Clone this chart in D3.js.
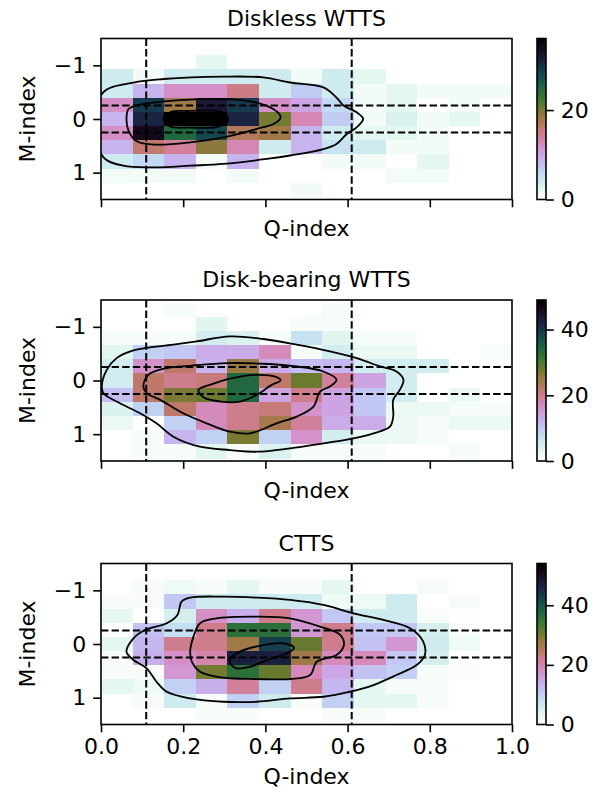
<!DOCTYPE html>
<html>
<head>
<meta charset="utf-8">
<script src="https://cdn.jsdelivr.net/npm/d3@7/dist/d3.min.js"></script>
<style>
body { margin: 0; background: #fff; }
svg text { font-family: "DejaVu Sans", sans-serif; fill: #000; }
</style>
</head>
<body>
<script>
//bin edges of the 2d histogram
var qEdges = [0, 0.0769, 0.1538, 0.2308, 0.3077, 0.3846, 0.4615, 0.5385, 0.6154, 0.6923, 0.7692, 0.8462, 0.9231, 1];
var mEdges = [-1.45, -1.186, -0.923, -0.659, -0.395, -0.132, 0.132, 0.395, 0.659, 0.923, 1.186, 1.45];

var titles = ["Diskless WTTS", "Disk-bearing WTTS", "CTTS"];
var vmaxes = [36, 49, 54];
var cbarTicks = [[0, 20], [0, 20, 40], [0, 20, 40]];
var qTicks = [0, 0.2, 0.4, 0.6, 0.8, 1.0];
var mTicks = [-1, 0, 1];
var qCuts = [0.11, 0.61];
var mCuts = [-0.25, 0.25];

//counts, one row per M bin (top row = most negative M), one column per Q bin
var counts1 = [
  [0, 0, 0, 0, 0, 0, 0, 0, 0, 0, 0, 0, 0],
  [0, 0, 0, 2, 0, 0, 0, 0, 0, 0, 0, 0, 0],
  [4, 1, 4, 4, 4, 4, 1, 4, 2, 0, 0, 0, 0],
  [4, 9, 12, 12, 15, 4, 7, 4, 1, 2, 1, 1, 1],
  [12, 29, 18, 32, 29, 12, 10, 6, 1, 2, 0, 1, 0],
  [9, 31, 36, 36, 31, 20, 13, 7, 1, 3, 1, 2, 0],
  [12, 34, 25, 28, 17, 18, 9, 4, 2, 2, 1, 0, 0],
  [9, 16, 14, 19, 13, 4, 9, 5, 4, 1, 1, 0, 0],
  [4, 6, 9, 1, 9, 0, 0, 1, 1, 0, 2, 0, 0],
  [1, 1, 1, 0, 1, 0, 0, 0, 0, 1, 1, 0, 0],
  [0, 0, 0, 0, 0, 0, 1, 0, 0, 0, 0, 0, 0]
];
var counts2 = [
  [0, 0, 1, 0, 0, 0, 0, 1, 0, 0, 0, 0, 0],
  [0, 0, 0, 3, 0, 0, 1, 1, 0, 0, 0, 0, 0],
  [1, 1, 1, 5, 4, 1, 7, 3, 1, 1, 0, 0, 0],
  [3, 9, 10, 13, 13, 17, 1, 5, 2, 2, 0, 0, 1],
  [5, 16, 22, 12, 25, 13, 11, 12, 5, 5, 5, 0, 0],
  [5, 22, 20, 21, 34, 22, 28, 19, 14, 5, 0, 0, 0],
  [11, 22, 27, 28, 34, 14, 20, 14, 10, 5, 0, 2, 0],
  [4, 9, 22, 17, 20, 21, 16, 14, 10, 2, 2, 1, 1],
  [2, 0, 9, 17, 20, 24, 19, 13, 13, 2, 1, 2, 2],
  [0, 1, 12, 9, 27, 9, 16, 5, 2, 2, 1, 0, 0],
  [0, 1, 1, 3, 1, 4, 1, 1, 1, 0, 0, 1, 0]
];
var counts3 = [
  [0, 0, 0, 0, 0, 0, 0, 0, 0, 0, 0, 0, 0],
  [0, 1, 2, 1, 3, 1, 1, 3, 0, 0, 1, 0, 0],
  [1, 1, 11, 6, 6, 6, 6, 2, 2, 6, 0, 1, 0],
  [3, 0, 5, 18, 14, 22, 17, 11, 6, 6, 1, 0, 0],
  [0, 12, 8, 22, 36, 36, 17, 22, 11, 11, 5, 1, 0],
  [3, 13, 22, 22, 27, 43, 31, 22, 12, 17, 6, 2, 0],
  [1, 14, 18, 20, 47, 47, 27, 19, 19, 11, 5, 0, 0],
  [1, 1, 17, 30, 36, 31, 19, 15, 12, 10, 1, 1, 0],
  [3, 2, 10, 14, 21, 10, 22, 13, 3, 1, 1, 0, 0],
  [0, 1, 6, 1, 10, 6, 1, 10, 3, 3, 1, 0, 0],
  [0, 0, 0, 1, 1, 0, 0, 1, 1, 0, 0, 0, 0]
];

//density contours [Q, M], outer to inner
var contours1 = [
  [[-0.015, 0.1], [0.006, -0.5], [0.079, -0.68], [0.152, -0.745], [0.298, -0.79], [0.395, -0.776], [0.46, -0.68],
   [0.541, -0.59], [0.573, -0.4], [0.59, -0.25], [0.622, -0.124], [0.638, 0], [0.622, 0.155], [0.598, 0.28],
   [0.573, 0.466], [0.541, 0.56], [0.46, 0.68], [0.403, 0.745], [0.298, 0.838], [0.217, 0.87], [0.135, 0.9],
   [0.054, 0.87], [0.006, 0.714]],
  [[0.062, 0], [0.067, -0.186], [0.095, -0.267], [0.176, -0.341], [0.298, -0.372], [0.363, -0.329], [0.419, -0.186],
   [0.437, -0.04], [0.423, 0.08], [0.379, 0.186], [0.298, 0.341], [0.217, 0.435], [0.135, 0.478], [0.087, 0.416],
   [0.067, 0.217]],
  [[0.152, 0], [0.168, -0.124], [0.217, -0.15], [0.281, -0.15], [0.307, -0.062], [0.306, 0.062], [0.281, 0.15],
   [0.217, 0.16], [0.168, 0.14]]
];
var contours2 = [
  [[0.002, 0.112], [0.014, -0.199], [0.038, -0.417], [0.079, -0.561], [0.176, -0.667], [0.233, -0.729], [0.314, -0.822],
   [0.395, -0.773], [0.476, -0.667], [0.557, -0.542], [0.622, -0.417], [0.679, -0.262], [0.719, -0.168], [0.736, -0.012],
   [0.727, 0.174], [0.711, 0.361], [0.711, 0.673], [0.703, 0.86], [0.663, 0.984], [0.614, 1.078], [0.541, 1.171],
   [0.46, 1.265], [0.379, 1.327], [0.314, 1.296], [0.241, 1.234], [0.176, 1.047], [0.135, 0.798], [0.095, 0.611],
   [0.038, 0.393], [0.006, 0.237]],
  [[0.103, 0.112], [0.115, -0.106], [0.16, -0.231], [0.217, -0.274], [0.306, -0.324], [0.395, -0.312], [0.476, -0.262],
   [0.541, -0.168], [0.573, -0.012], [0.557, 0.112], [0.533, 0.206], [0.517, 0.486], [0.476, 0.673], [0.427, 0.798],
   [0.363, 0.984], [0.314, 0.953], [0.257, 0.798], [0.2, 0.611], [0.144, 0.361], [0.111, 0.237]],
  [[0.237, 0.174], [0.265, 0.081], [0.314, -0.037], [0.379, -0.106], [0.427, -0.062], [0.437, 0], [0.415, 0.081],
   [0.379, 0.268], [0.338, 0.393], [0.298, 0.399], [0.249, 0.312]]
];
var contours3 = [
  [[0.062, 0.143], [0.079, -0.106], [0.107, -0.261], [0.16, -0.386], [0.186, -0.541], [0.196, -0.79], [0.217, -0.864],
   [0.298, -0.883], [0.379, -0.864], [0.46, -0.821], [0.541, -0.728], [0.614, -0.572], [0.687, -0.448], [0.752, -0.292],
   [0.784, -0.044], [0.788, 0.205], [0.768, 0.392], [0.719, 0.578], [0.663, 0.765], [0.606, 0.889], [0.541, 0.983],
   [0.46, 1.014], [0.379, 1.076], [0.298, 1.076], [0.217, 1.014], [0.16, 0.889], [0.135, 0.703], [0.111, 0.454],
   [0.079, 0.299]],
  [[0.217, 0.143], [0.225, -0.137], [0.241, -0.386], [0.281, -0.479], [0.379, -0.51], [0.46, -0.479], [0.533, -0.323],
   [0.582, -0.168], [0.591, 0.019], [0.573, 0.205], [0.525, 0.33], [0.509, 0.578], [0.46, 0.653], [0.379, 0.653],
   [0.298, 0.628], [0.241, 0.516], [0.221, 0.33]],
  [[0.314, 0.28], [0.338, 0.143], [0.395, 0.019], [0.444, -0.012], [0.47, 0.068], [0.452, 0.174], [0.411, 0.28],
   [0.363, 0.423], [0.33, 0.454], [0.316, 0.379]]
];

var allCounts = [counts1, counts2, counts3];
var allContours = [contours1, contours2, contours3];

//page layout
var w = 607, h = 800;
var left = 101, plotW = 411, plotH = 161;
var tops = [38.5, 300, 563.5];
var cbarX = 537, cbarW = 9;
var fs = 22;

//reversed cubehelix, same as matplotlib cubehelix_r
function cmap(t) {
  return d3.interpolateCubehelixDefault(1 - Math.max(0, Math.min(1, t)));
}

var svg = d3.select("body").append("svg")
  .attr("width", w)
  .attr("height", h);

var defs = svg.append("defs");

var x = d3.scaleLinear().domain([0, 1]).range([left, left + plotW]);

tops.forEach(function(top, p) {
  var y = d3.scaleLinear().domain([-1.5, 1.5]).range([top, top + plotH]);
  var counts = allCounts[p];
  var vmax = vmaxes[p];

  defs.append("clipPath").attr("id", "clip" + p)
    .append("rect")
    .attr("x", left).attr("y", top)
    .attr("width", plotW).attr("height", plotH);

  var g = svg.append("g").attr("class", "panel");

  //histogram cells
  var cells = [];
  counts.forEach(function(row, i) {
    row.forEach(function(v, j) {
      cells.push({ i: i, j: j, v: v });
    });
  });
  g.append("g")
    .attr("clip-path", "url(#clip" + p + ")")
    .selectAll("rect")
    .data(cells)
    .enter()
    .append("rect")
    .attr("x", function(d) { return x(qEdges[d.j]); })
    .attr("y", function(d) { return y(mEdges[d.i]); })
    .attr("width", function(d) { return x(qEdges[d.j + 1]) - x(qEdges[d.j]) + 0.3; })
    .attr("height", function(d) { return y(mEdges[d.i + 1]) - y(mEdges[d.i]) + 0.3; })
    .attr("fill", function(d) { return cmap(d.v / vmax); })
    .attr("shape-rendering", "crispEdges");

  //contours
  var line = d3.line()
    .x(function(d) { return x(d[0]); })
    .y(function(d) { return y(d[1]); })
    .curve(d3.curveCatmullRomClosed.alpha(0.5));
  g.append("g")
    .attr("clip-path", "url(#clip" + p + ")")
    .selectAll("path")
    .data(allContours[p])
    .enter()
    .append("path")
    .attr("d", line)
    .attr("fill", "none")
    .attr("stroke", "#000")
    .attr("stroke-width", 1.8);

  //dashed cut lines
  g.selectAll(".qcut")
    .data(qCuts)
    .enter()
    .append("line")
    .attr("x1", function(d) { return x(d); })
    .attr("x2", function(d) { return x(d); })
    .attr("y1", top).attr("y2", top + plotH)
    .attr("stroke", "#000").attr("stroke-width", 2)
    .attr("stroke-dasharray", "7.4,3.2");
  g.selectAll(".mcut")
    .data(mCuts)
    .enter()
    .append("line")
    .attr("x1", left).attr("x2", left + plotW)
    .attr("y1", function(d) { return y(d); })
    .attr("y2", function(d) { return y(d); })
    .attr("stroke", "#000").attr("stroke-width", 2)
    .attr("stroke-dasharray", "7.4,3.2");

  //axes
  var xAxis = d3.axisBottom(x).tickValues(qTicks).tickSize(7.8).tickPadding(6)
    .tickFormat(p === 2 ? d3.format(".1f") : "");
  var ax = g.append("g")
    .attr("transform", "translate(0," + (top + plotH) + ")")
    .call(xAxis);
  var yAxis = d3.axisLeft(y).tickValues(mTicks).tickSize(7.8).tickPadding(7)
    .tickFormat(function(d) { return d < 0 ? "\u2212" + Math.abs(d) : d; });
  var ay = g.append("g")
    .attr("transform", "translate(" + left + ",0)")
    .call(yAxis);
  [ax, ay].forEach(function(a) {
    a.select(".domain").remove();
    a.selectAll(".tick line").attr("stroke", "#000").attr("stroke-width", 1.6);
    a.selectAll(".tick text").attr("font-size", fs).attr("font-family", "DejaVu Sans");
  });

  g.append("rect")
    .attr("x", left).attr("y", top)
    .attr("width", plotW).attr("height", plotH)
    .attr("fill", "none").attr("stroke", "#000").attr("stroke-width", 1.6);

  //labels
  g.append("text")
    .attr("x", left + plotW / 2).attr("y", top - 13)
    .attr("text-anchor", "middle").attr("font-size", fs)
    .text(titles[p]);
  g.append("text")
    .attr("x", left + plotW / 2)
    .attr("y", top + plotH + (p === 2 ? 59.5 : 36.5))
    .attr("text-anchor", "middle").attr("font-size", fs)
    .text("Q-index");
  g.append("text")
    .attr("transform", "translate(35," + (top + plotH / 2) + ") rotate(-90)")
    .attr("text-anchor", "middle").attr("font-size", fs)
    .text("M-index");

  //colorbar
  var cy = d3.scaleLinear().domain([0, vmax]).range([top + plotH, top]);
  var grad = defs.append("linearGradient")
    .attr("id", "grad" + p)
    .attr("x1", 0).attr("y1", 1).attr("x2", 0).attr("y2", 0);
  grad.selectAll("stop")
    .data(d3.range(0, 1.0001, 0.02))
    .enter()
    .append("stop")
    .attr("offset", function(d) { return d; })
    .attr("stop-color", function(d) { return cmap(d); });
  g.append("rect")
    .attr("x", cbarX).attr("y", top)
    .attr("width", cbarW).attr("height", plotH)
    .attr("fill", "url(#grad" + p + ")")
    .attr("stroke", "#000").attr("stroke-width", 1.6);
  var cAxis = g.append("g")
    .attr("transform", "translate(" + (cbarX + cbarW) + ",0)")
    .call(d3.axisRight(cy).tickValues(cbarTicks[p]).tickSize(7.8).tickPadding(7));
  cAxis.select(".domain").remove();
  cAxis.selectAll(".tick line").attr("stroke", "#000").attr("stroke-width", 1.6);
  cAxis.selectAll(".tick text").attr("font-size", fs).attr("font-family", "DejaVu Sans");
});
</script>
</body>
</html>
